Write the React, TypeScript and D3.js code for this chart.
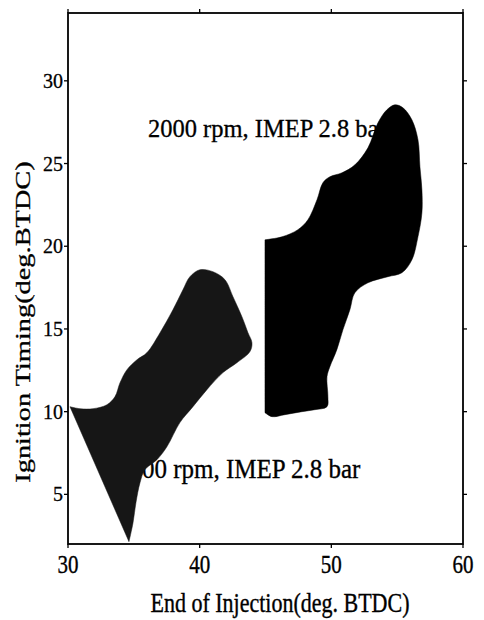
import React from "react";
import * as d3 from "d3";

const W = 484;
const H = 620;

const xTicks = [30, 40, 50, 60];
const yTicks = [5, 10, 15, 20, 25, 30];

// 1500 rpm region outline: [End of Injection, Ignition Timing] (closed by a straight edge)
const region1500X = [30.15, 30.91, 31.9, 32.96, 33.57, 33.95, 34.48, 35.24, 36.0, 36.99, 37.97, 38.73, 39.26, 40.02, 41.01, 41.92, 42.53, 43.21, 43.67, 43.97, 43.82, 42.83, 41.77, 40.55, 39.49, 38.5, 37.52, 36.76, 35.85, 35.47, 35.16, 34.94, 34.63];
const region1500Y = [10.3, 10.18, 10.18, 10.42, 10.91, 11.75, 12.54, 13.14, 13.57, 14.77, 16.16, 17.37, 18.16, 18.58, 18.46, 17.98, 16.95, 15.74, 14.77, 14.17, 13.63, 12.96, 12.36, 11.33, 10.3, 9.34, 7.89, 7.1, 6.5, 5.71, 4.5, 3.29, 2.14];

// 2000 rpm region outline (closed by a straight vertical edge)
const region2000X = [44.96, 45.49, 46.48, 47.77, 48.75, 49.67, 49.74, 49.67, 49.89, 50.42, 50.88, 51.41, 51.79, 52.78, 54.3, 55.36, 56.12, 56.58, 56.88, 56.88, 56.73, 56.58, 56.12, 55.44, 54.83, 54.22, 53.54, 52.78, 51.79, 50.81, 49.89, 49.36, 48.91, 48.22, 47.46, 46.25, 44.96];
const region2000Y = [9.94, 9.7, 9.82, 10.0, 10.12, 10.3, 10.91, 12.11, 12.72, 13.75, 14.95, 16.16, 17.19, 17.79, 18.16, 18.4, 19.18, 20.57, 22.02, 23.41, 24.8, 26.44, 27.64, 28.37, 28.55, 28.25, 27.46, 25.95, 24.92, 24.44, 24.2, 23.84, 22.81, 21.6, 21.0, 20.57, 20.39];

const label1500 = "1500 rpm, IMEP 2.8 bar";
const label2000 = "2000 rpm, IMEP 2.8 bar";
const xTitle = "End of Injection(deg. BTDC)";
const yTitle = "Ignition Timing(deg.BTDC)";

export default function App() {
  const x = d3.scaleLinear().domain([30, 60]).range([68, 463]);
  const y = d3.scaleLinear().domain([2, 34.1]).range([544, 13]);

  const line = d3
    .line<[number, number]>()
    .x((d) => x(d[0]))
    .y((d) => y(d[1]))
    .curve(d3.curveCatmullRom.alpha(0.5));

  const pts1500: [number, number][] = region1500X.map((v, i) => [v, region1500Y[i]]);
  const pts2000: [number, number][] = region2000X.map((v, i) => [v, region2000Y[i]]);

  const font = "'Liberation Serif', 'Times New Roman', serif";
  const x0 = x.range()[0];
  const x1 = x.range()[1];
  const yTop = y.range()[1];
  const yBot = y.range()[0];

  return (
    <svg
      width={W}
      height={H}
      style={{ position: "absolute", left: 0, top: 0, background: "#fff" }}
      fontFamily={font}
    >
      <rect x={0} y={0} width={W} height={H} fill="#fff" />

      {/* annotations (partly covered by the regions) */}
      <text x={148} y={137} fontSize={24.5} transform="translate(148,137) scale(1,1.05) translate(-148,-137)" fill="#000" stroke="#000" strokeWidth={0.3}>
        {label2000}
      </text>
      <text x={117} y={478} fontSize={25} transform="translate(117,478) scale(1,1.05) translate(-117,-478)" fill="#000" stroke="#000" strokeWidth={0.3}>
        {label1500}
      </text>

      {/* regions */}
      <path d={(line(pts1500) ?? "") + "Z"} fill="#161616" stroke="#161616" strokeWidth={0.5} />
      <path d={(line(pts2000) ?? "") + "Z"} fill="#000" stroke="#000" strokeWidth={0.5} />

      {/* frame */}
      <rect x={x0} y={yTop} width={x1 - x0} height={yBot - yTop} fill="none" stroke="#000" strokeWidth={1.8} />

      {/* x ticks */}
      {xTicks.map((t) => (
        <g key={"xt" + t}>
          <line x1={x(t)} x2={x(t)} y1={yBot} y2={yBot + 4} stroke="#000" strokeWidth={1.3} />
          <line x1={x(t)} x2={x(t)} y1={yTop} y2={yTop - 4} stroke="#000" strokeWidth={1.3} />
          <text
            x={x(t)}
            y={573}
            fontSize={21}
            textAnchor="middle"
            stroke="#000"
            strokeWidth={0.3}
            transform={`translate(${x(t)},573) scale(1,1.2) translate(${-x(t)},-573)`}
          >
            {t}
          </text>
        </g>
      ))}

      {/* y ticks */}
      {yTicks.map((t) => (
        <g key={"yt" + t}>
          <line x1={x0 - 4} x2={x0} y1={y(t)} y2={y(t)} stroke="#000" strokeWidth={1.3} />
          <line x1={x1} x2={x1 + 4} y1={y(t)} y2={y(t)} stroke="#000" strokeWidth={1.3} />
          <text x={63} y={y(t) + 7} fontSize={20} textAnchor="end" stroke="#000" strokeWidth={0.3}>
            {t}
          </text>
        </g>
      ))}

      {/* axis titles */}
      <text
        x={280}
        y={612}
        fontSize={22}
        textAnchor="middle"
        stroke="#000"
        strokeWidth={0.3}
        transform="translate(280,612) scale(1,1.25) translate(-280,-612)"
      >
        {xTitle}
      </text>
      <text
        fontSize={21.5}
        textAnchor="middle"
        stroke="#000"
        strokeWidth={0.3}
        transform="translate(30,322) rotate(-90) scale(1.32,1)"
      >
        {yTitle}
      </text>
    </svg>
  );
}
